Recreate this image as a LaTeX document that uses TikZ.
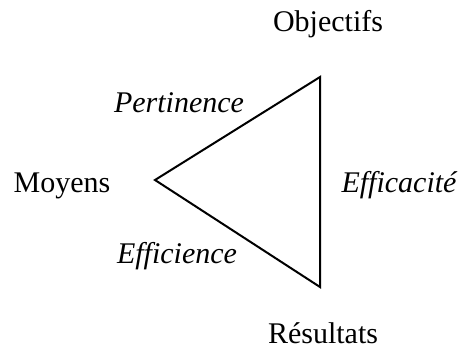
\documentclass[tikz,border=0pt]{standalone}
\usepackage{fontspec}
\setmainfont{Liberation Serif}
\begin{document}
\begin{tikzpicture}[x=1pt,y=-1pt,
  lbl/.style={anchor=base,inner sep=0pt,font=\fontsize{30}{36}\selectfont},
  ilbl/.style={lbl,font=\fontsize{30}{36}\selectfont\itshape},
  edge/.style={line width=2pt,line join=miter}]
\useasboundingbox (0,0) rectangle (460,350);
\coordinate (M) at (155,180);
\coordinate (O) at (320,77);
\coordinate (R) at (320,287);
\draw[edge] (M) -- (O) -- (R) -- cycle;
\node[lbl] (obj) at (328,32) {Objectifs};
\node[lbl] (res) at (323,343) {Résultats};
\node[lbl] (moy) at (62,192) {Moyens};
\node[ilbl] (eca) at (399,192) {Efficacité};
\node[ilbl] (per) at (179,113) {Pertinence};
\node[ilbl] (eci) at (177,263) {Efficience};
\end{tikzpicture}
\end{document}
